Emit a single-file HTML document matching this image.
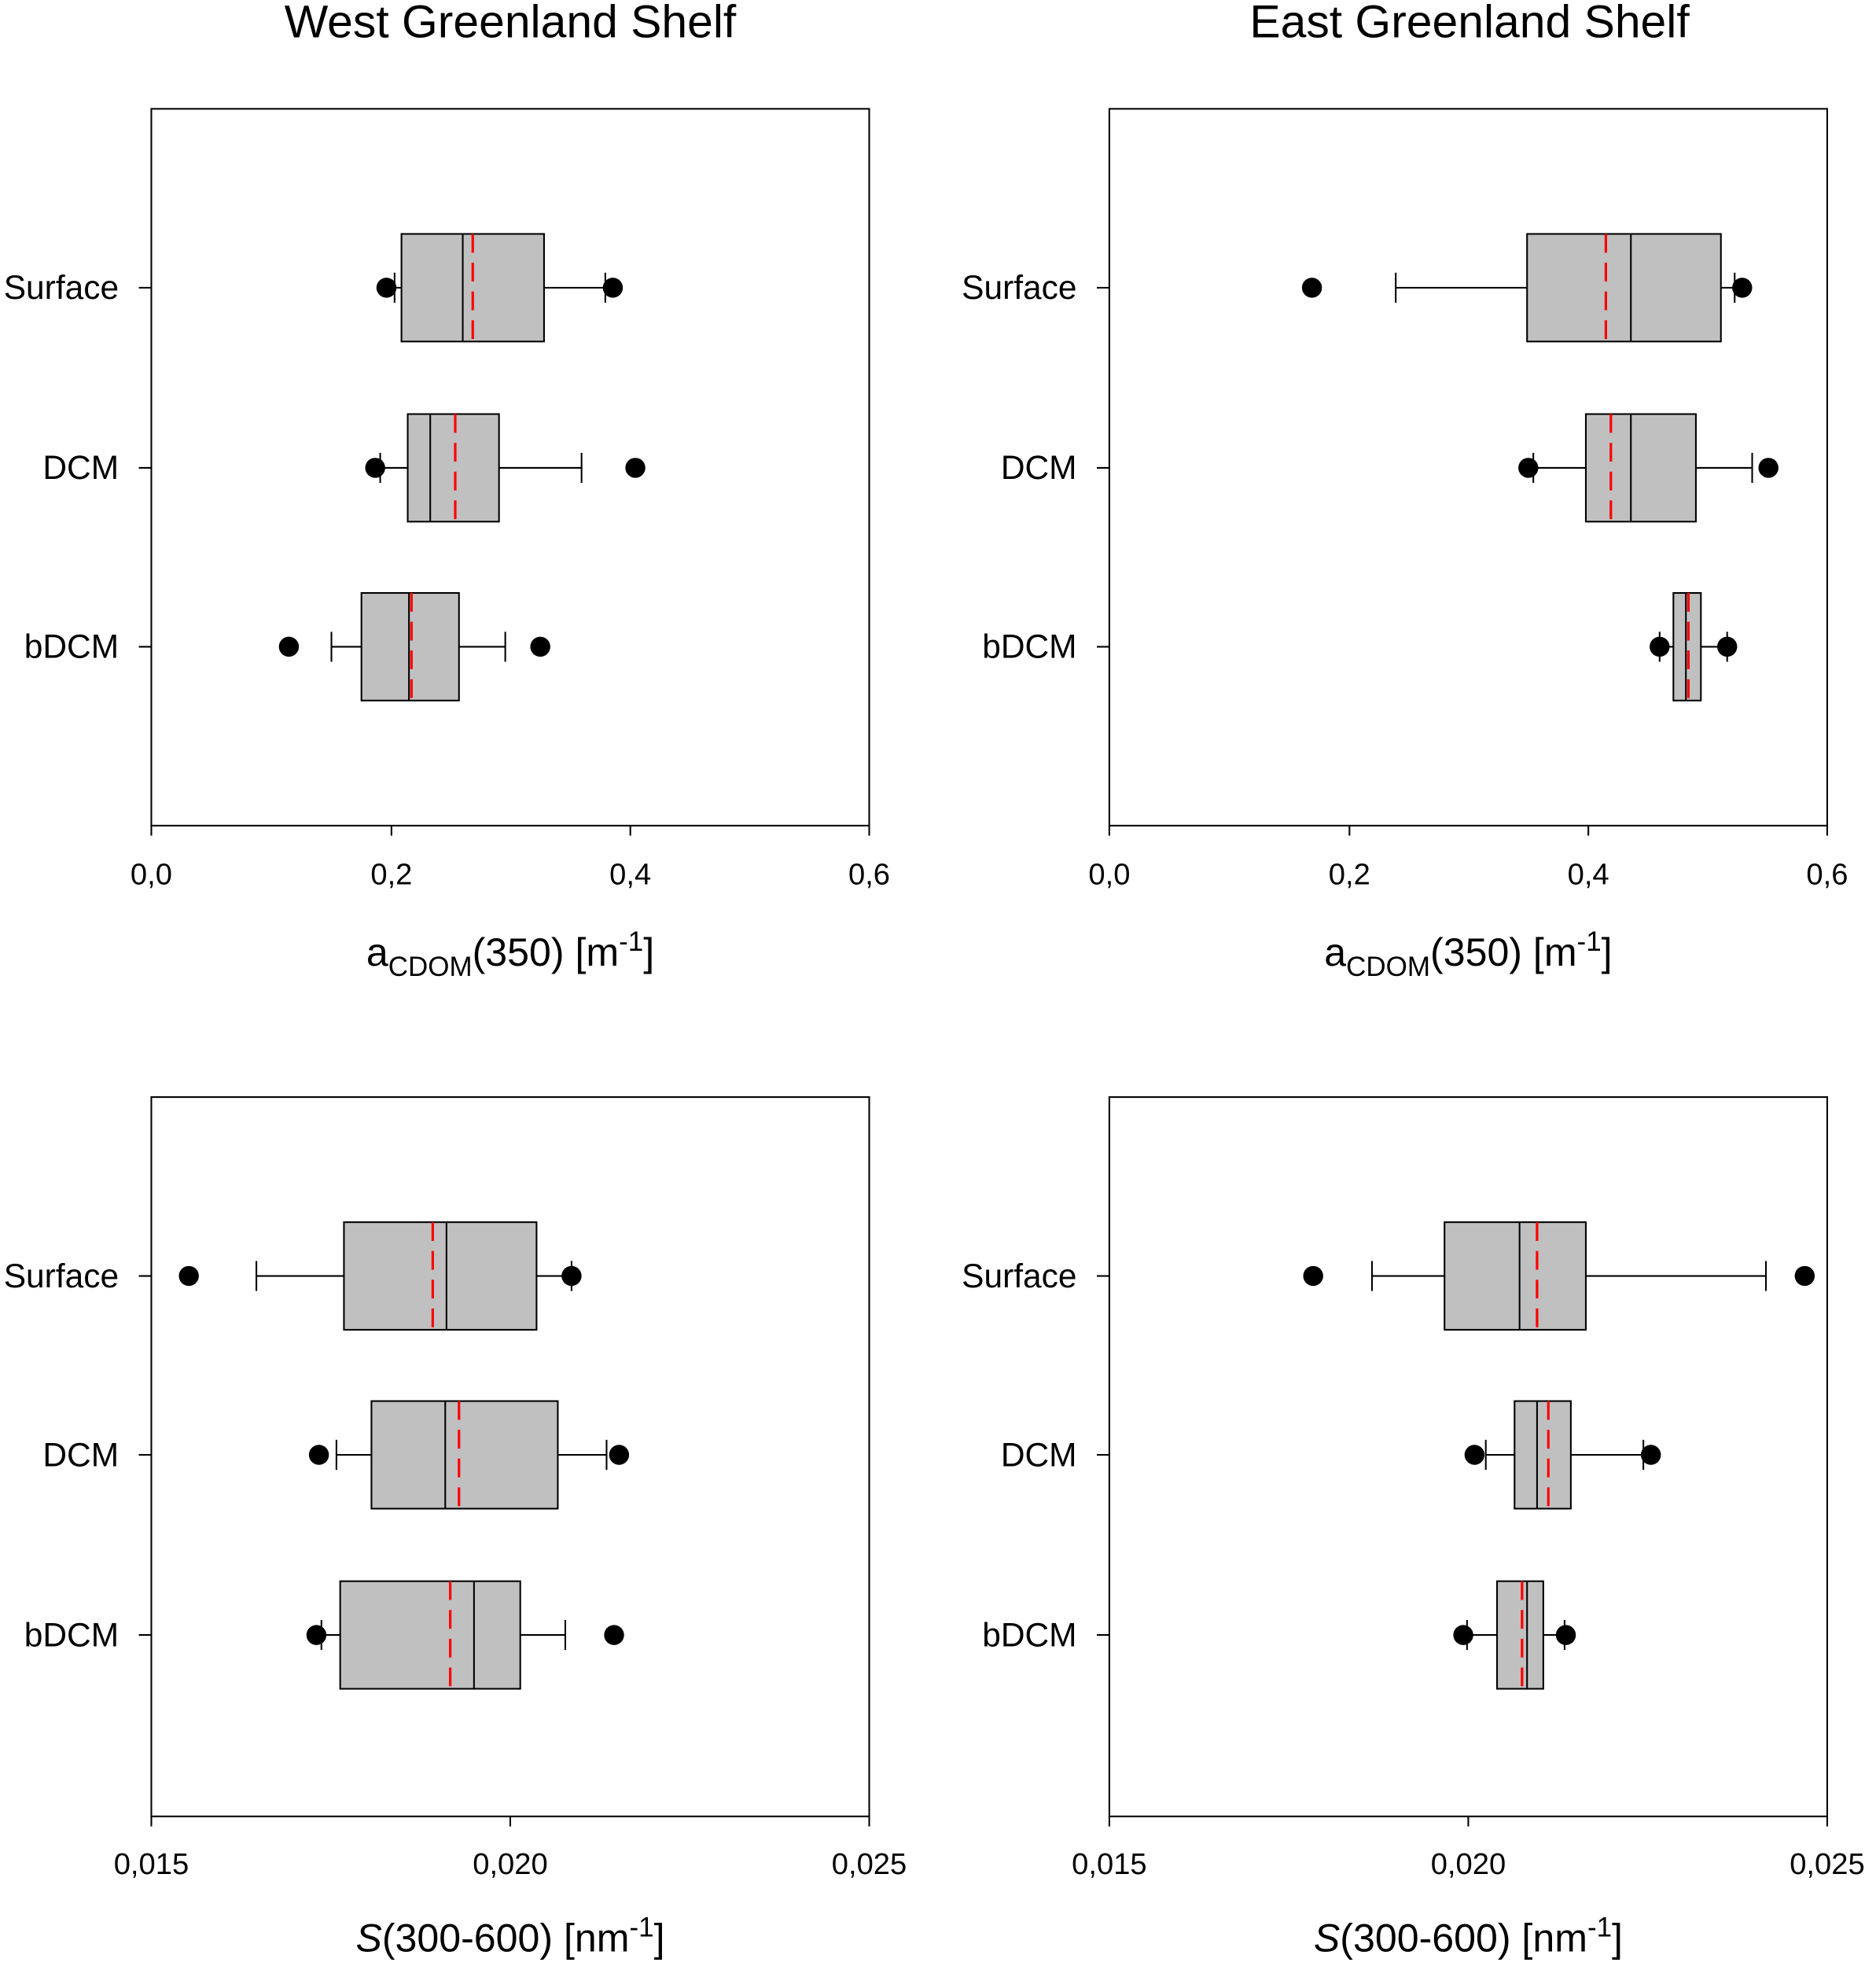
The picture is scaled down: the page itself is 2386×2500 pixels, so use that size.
<!DOCTYPE html>
<html><head><style>
html,body{margin:0;padding:0;background:#fff}
svg{display:block}
text{font-family:"Liberation Sans",Arial,sans-serif;fill:#000}
.w{stroke:#000;stroke-width:1.3;fill:none}
.b{fill:#c0c0c0;stroke:#000;stroke-width:1.3}
.m{stroke:#000;stroke-width:1.3}
.r{stroke:#ff0000;stroke-width:2;stroke-dasharray:15,8}
</style></head><body>
<svg width="2386" height="2500" viewBox="0 0 1500 1571.6" preserveAspectRatio="none" xmlns="http://www.w3.org/2000/svg">
<g stroke="#000" stroke-width="1.3" fill="none">
<rect x="121" y="87" width="574" height="573"/>
<rect x="887" y="87" width="574" height="573"/>
<rect x="121" y="877" width="574" height="575"/>
<rect x="887" y="877" width="574" height="575"/>
<path d="M121 660v8M313 660v8M504 660v8M695 660v8M887 660v8M1079 660v8M1270 660v8M1461 660v8"/>
<path d="M121 1452v8M408 1452v8M695 1452v8M887 1452v8M1174 1452v8M1461 1452v8"/>
<path d="M111 230h10M111 374h10M111 517h10M877 230h10M877 374h10M877 517h10"/>
<path d="M111 1020h10M111 1163h10M111 1307h10M877 1020h10M877 1163h10M877 1307h10"/>
</g>
<g font-size="26.7" text-anchor="end">
<text x="95" y="239">Surface</text><text x="95" y="383">DCM</text><text x="95" y="526">bDCM</text>
<text x="861" y="239">Surface</text><text x="861" y="383">DCM</text><text x="861" y="526">bDCM</text>
<text x="95" y="1029">Surface</text><text x="95" y="1172">DCM</text><text x="95" y="1316">bDCM</text>
<text x="861" y="1029">Surface</text><text x="861" y="1172">DCM</text><text x="861" y="1316">bDCM</text>
</g>
<g font-size="24" text-anchor="middle">
<text x="121" y="707">0,0</text><text x="313" y="707">0,2</text><text x="504" y="707">0,4</text><text x="695" y="707">0,6</text>
<text x="887" y="707">0,0</text><text x="1079" y="707">0,2</text><text x="1270" y="707">0,4</text><text x="1461" y="707">0,6</text>
<text x="121" y="1498">0,015</text><text x="408" y="1498">0,020</text><text x="695" y="1498">0,025</text>
<text x="887" y="1498">0,015</text><text x="1174" y="1498">0,020</text><text x="1461" y="1498">0,025</text>
</g>
<g font-size="37" text-anchor="middle">
<text x="408" y="30">West Greenland Shelf</text>
<text x="1175" y="30">East Greenland Shelf</text>
</g>
<g font-size="31.5" text-anchor="middle">
<text x="408" y="772">a<tspan font-size="22" dy="8">CDOM</tspan><tspan dy="-8">(350) [m</tspan><tspan font-size="22" dy="-12">-1</tspan><tspan dy="12">]</tspan></text>
<text x="1174" y="772">a<tspan font-size="22" dy="8">CDOM</tspan><tspan dy="-8">(350) [m</tspan><tspan font-size="22" dy="-12">-1</tspan><tspan dy="12">]</tspan></text>
<text x="408" y="1560"><tspan font-style="italic">S</tspan>(300-600) [nm<tspan font-size="22" dy="-12">-1</tspan><tspan dy="12">]</tspan></text>
<text x="1174" y="1560"><tspan font-style="italic">S</tspan>(300-600) [nm<tspan font-size="22" dy="-12">-1</tspan><tspan dy="12">]</tspan></text>
</g>

<g transform="translate(0,230)"><path class="w" d="M315.5 0H321M435 0H484M315.5 -12v24M484 -12v24"/><rect class="b" x="321" y="-43" width="114" height="86"/><line class="m" x1="370" x2="370" y1="-43" y2="43"/><line class="r" x1="378" x2="378" y1="-43" y2="43"/><circle cx="309" cy="0" r="8"/><circle cx="490" cy="0" r="8"/></g>
<g transform="translate(0,374)"><path class="w" d="M304 0H326M399 0H465M304 -12v24M465 -12v24"/><rect class="b" x="326" y="-43" width="73" height="86"/><line class="m" x1="344" x2="344" y1="-43" y2="43"/><line class="r" x1="364" x2="364" y1="-43" y2="43"/><circle cx="300" cy="0" r="8"/><circle cx="508" cy="0" r="8"/></g>
<g transform="translate(0,517)"><path class="w" d="M265 0H289M367 0H404M265 -12v24M404 -12v24"/><rect class="b" x="289" y="-43" width="78" height="86"/><line class="m" x1="327" x2="327" y1="-43" y2="43"/><line class="r" x1="329" x2="329" y1="-43" y2="43"/><circle cx="231" cy="0" r="8"/><circle cx="432" cy="0" r="8"/></g>

<g transform="translate(0,230)"><path class="w" d="M1116 0H1221M1376 0H1387M1116 -12v24M1387 -12v24"/><rect class="b" x="1221" y="-43" width="155" height="86"/><line class="m" x1="1304" x2="1304" y1="-43" y2="43"/><line class="r" x1="1284" x2="1284" y1="-43" y2="43"/><circle cx="1049" cy="0" r="8"/><circle cx="1393" cy="0" r="8"/></g>
<g transform="translate(0,374)"><path class="w" d="M1226 0H1268M1356 0H1401M1226 -12v24M1401 -12v24"/><rect class="b" x="1268" y="-43" width="88" height="86"/><line class="m" x1="1304" x2="1304" y1="-43" y2="43"/><line class="r" x1="1288" x2="1288" y1="-43" y2="43"/><circle cx="1222" cy="0" r="8"/><circle cx="1414" cy="0" r="8"/></g>
<g transform="translate(0,517)"><path class="w" d="M1327 0H1338M1360 0H1381M1327 -12v24M1381 -12v24"/><rect class="b" x="1338" y="-43" width="22" height="86"/><line class="m" x1="1348" x2="1348" y1="-43" y2="43"/><line class="r" x1="1350" x2="1350" y1="-43" y2="43"/><circle cx="1327" cy="0" r="8"/><circle cx="1381" cy="0" r="8"/></g>

<g transform="translate(0,1020)"><path class="w" d="M205 0H275M429 0H457M205 -12v24M457 -12v24"/><rect class="b" x="275" y="-43" width="154" height="86"/><line class="m" x1="357" x2="357" y1="-43" y2="43"/><line class="r" x1="346" x2="346" y1="-43" y2="43"/><circle cx="151" cy="0" r="8"/><circle cx="457" cy="0" r="8"/></g>
<g transform="translate(0,1163)"><path class="w" d="M269 0H297M446 0H485M269 -12v24M485 -12v24"/><rect class="b" x="297" y="-43" width="149" height="86"/><line class="m" x1="356" x2="356" y1="-43" y2="43"/><line class="r" x1="367" x2="367" y1="-43" y2="43"/><circle cx="255" cy="0" r="8"/><circle cx="495" cy="0" r="8"/></g>
<g transform="translate(0,1307)"><path class="w" d="M257 0H272M416 0H452M257 -12v24M452 -12v24"/><rect class="b" x="272" y="-43" width="144" height="86"/><line class="m" x1="379" x2="379" y1="-43" y2="43"/><line class="r" x1="360" x2="360" y1="-43" y2="43"/><circle cx="253" cy="0" r="8"/><circle cx="491" cy="0" r="8"/></g>

<g transform="translate(0,1020)"><path class="w" d="M1097 0H1155M1268 0H1412M1097 -12v24M1412 -12v24"/><rect class="b" x="1155" y="-43" width="113" height="86"/><line class="m" x1="1215" x2="1215" y1="-43" y2="43"/><line class="r" x1="1229" x2="1229" y1="-43" y2="43"/><circle cx="1050" cy="0" r="8"/><circle cx="1443" cy="0" r="8"/></g>
<g transform="translate(0,1163)"><path class="w" d="M1188 0H1211M1256 0H1314M1188 -12v24M1314 -12v24"/><rect class="b" x="1211" y="-43" width="45" height="86"/><line class="m" x1="1229" x2="1229" y1="-43" y2="43"/><line class="r" x1="1238" x2="1238" y1="-43" y2="43"/><circle cx="1179" cy="0" r="8"/><circle cx="1320" cy="0" r="8"/></g>
<g transform="translate(0,1307)"><path class="w" d="M1173 0H1197M1234 0H1251M1173 -12v24M1251 -12v24"/><rect class="b" x="1197" y="-43" width="37" height="86"/><line class="m" x1="1221" x2="1221" y1="-43" y2="43"/><line class="r" x1="1217" x2="1217" y1="-43" y2="43"/><circle cx="1170" cy="0" r="8"/><circle cx="1252" cy="0" r="8"/></g>
</svg>
</body></html>
